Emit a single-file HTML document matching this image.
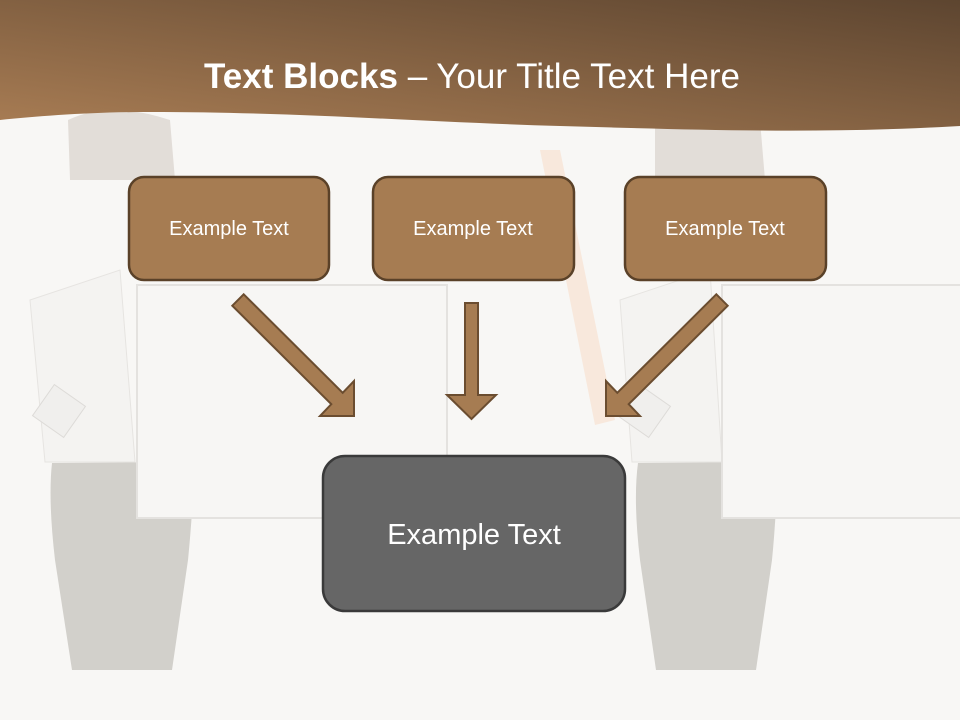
<!DOCTYPE html>
<html><head><meta charset="utf-8"><style>
html,body{margin:0;padding:0;width:960px;height:720px;overflow:hidden;background:#f8f7f5}
svg{display:block}
text{font-family:"Liberation Sans",sans-serif}
</style></head><body>
<svg width="960" height="720" viewBox="0 0 960 720" xmlns="http://www.w3.org/2000/svg">
<defs>
<linearGradient id="hg" x1="0" y1="1" x2="1" y2="0">
<stop offset="0" stop-color="#a97d54"/><stop offset="1" stop-color="#5d4530"/>
</linearGradient>
</defs>
<rect width="960" height="720" fill="#f8f7f5"/>
<path d="M52,463 L195,462 Q192,520 188,560 L172,670 L72,670 L55,560 Q48,500 52,463 Z" fill="#d2d0cb"/>
<path d="M638,463 L778,462 Q776,520 772,560 L756,670 L656,670 L640,560 Q633,500 638,463 Z" fill="#d2d0cb"/>
<path d="M30,300 L120,270 L135,462 L45,462 Z" fill="#f4f3f1" stroke="#e6e4e1"/>
<path d="M620,300 L710,270 L722,462 L632,462 Z" fill="#f4f3f1" stroke="#e6e4e1"/>
<path d="M68,120 Q110,100 170,120 L175,180 L70,180 Z" fill="#e2ddd8"/>
<path d="M655,120 Q700,100 760,120 L765,180 L655,180 Z" fill="#e2ddd8"/>
<rect x="137" y="285" width="310" height="233" fill="#f7f6f4" stroke="#e4e2df" stroke-width="2"/>
<rect x="722" y="285" width="245" height="233" fill="#f7f6f4" stroke="#e4e2df" stroke-width="2"/>
<path d="M540,150 L560,150 L615,420 L595,425 Z" fill="#f8e8dc"/>
<rect x="40" y="392" width="38" height="38" fill="#f0efed" stroke="#dddbd8" transform="rotate(35 59 411)"/>
<rect x="625" y="392" width="38" height="38" fill="#f0efed" stroke="#dddbd8" transform="rotate(35 644 411)"/>
<path d="M0,0 H960 V126 C820,134 700,130 560,126 C420,122 300,112 150,112 C90,112 40,116 0,120 Z" fill="url(#hg)"/>
<text x="472" y="88" text-anchor="middle" font-size="35" fill="#fff" textLength="536" lengthAdjust="spacingAndGlyphs"><tspan font-weight="bold">Text Blocks</tspan> – Your Title Text Here</text>
<g stroke="#5a4128" stroke-width="2.5" fill="#a67c52">
<rect x="129" y="177" width="200" height="103" rx="15"/>
<rect x="373" y="177" width="201" height="103" rx="15"/>
<rect x="625" y="177" width="201" height="103" rx="15"/>
</g>
<g font-size="20" fill="#fff" text-anchor="middle">
<text x="229" y="235">Example Text</text>
<text x="473" y="235">Example Text</text>
<text x="725" y="235">Example Text</text>
</g>
<g fill="#a67c52" stroke="#6b4d30" stroke-width="2" stroke-linejoin="miter">
<polygon points="243.7,294.3 342.7,392.8 354,381 354,416 320,416 331.3,404.2 232.3,305.7"/>
<polygon points="716.3,294.3 617.3,392.8 606,381 606,416 640,416 628.7,404.2 727.7,305.7"/>
<polygon points="465,303 478,303 478,395 496,395 471.5,419 447,395 465,395"/>
</g>
<rect x="323" y="456" width="302" height="155" rx="22" fill="#666" stroke="#3a3a3a" stroke-width="2.5"/>
<text x="474" y="544" text-anchor="middle" font-size="29" fill="#fff">Example Text</text>
</svg>
</body></html>
